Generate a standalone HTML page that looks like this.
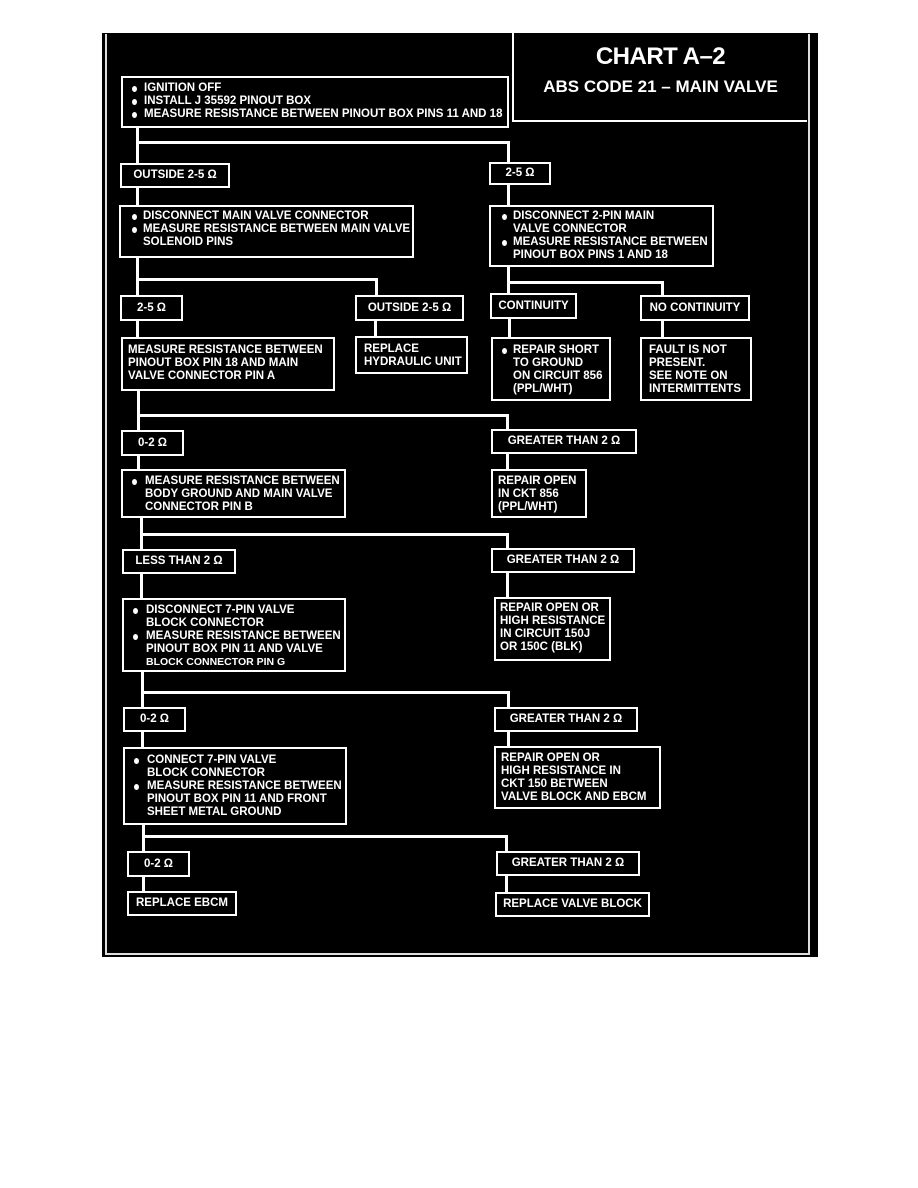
<!DOCTYPE html>
<html><head><meta charset="utf-8"><style>
body{margin:0;width:918px;height:1188px;background:#fff;position:relative;overflow:hidden;font-family:"Liberation Sans",sans-serif}
.bg{position:absolute;left:102px;top:33px;width:716px;height:924px;background:#000}
.fr{position:absolute;left:105px;top:34px;width:701px;height:919px;border:2px solid #ddd;border-top:none}
.b{position:absolute;border:2px solid #fff;box-sizing:border-box;color:#fff;font-weight:bold;font-size:11.5px;line-height:13px;padding:3px 6px;white-space:nowrap}
.c{display:flex;align-items:center;justify-content:center;padding:0}
.l{position:absolute;background:#fff}
.i{padding-left:22px;position:relative}
.i.d:before{content:"";position:absolute;left:5px;top:4px;width:5px;height:6px;border-radius:50%;background:#fff}
</style></head><body>
<div class="bg"></div><div class="fr"></div>
<div class="b" style="left:512px;top:30px;width:295px;height:92px;text-align:center;padding:12px 0 0;border-top:none;border-right:none">
<div style="font-size:24px;line-height:30px;letter-spacing:-0.5px">CHART A–2</div>
<div style="font-size:17px;line-height:30px">ABS CODE 21 – MAIN VALVE</div></div>

<div class="b" style="left:121px;top:76px;width:388px;height:52px;padding:4px 4px"><div class="i d" style="padding-left:17px">IGNITION OFF</div><div class="i d" style="padding-left:17px">INSTALL J 35592 PINOUT BOX</div><div class="i d" style="padding-left:17px">MEASURE RESISTANCE BETWEEN PINOUT BOX PINS 11 AND 18</div></div>

<div class="l" style="left:136px;top:127px;width:3px;height:38px"></div>
<div class="l" style="left:136px;top:141px;width:374px;height:3px"></div>
<div class="l" style="left:507px;top:141px;width:3px;height:22px"></div>
<div class="b c" style="left:120px;top:163px;width:110px;height:25px">OUTSIDE 2-5 Ω</div>
<div class="b c" style="left:489px;top:162px;width:62px;height:23px">2-5 Ω</div>
<div class="l" style="left:136px;top:187px;width:3px;height:19px"></div>
<div class="l" style="left:507px;top:184px;width:3px;height:22px"></div>

<div class="b" style="left:119px;top:205px;width:295px;height:53px"><div class="i d" style="padding-left:16px">DISCONNECT MAIN VALVE CONNECTOR</div><div class="i d" style="padding-left:16px">MEASURE RESISTANCE BETWEEN MAIN VALVE</div><div style="padding-left:16px">SOLENOID PINS</div></div>
<div class="b" style="left:489px;top:205px;width:225px;height:62px"><div class="i d" style="padding-left:16px">DISCONNECT 2-PIN MAIN</div><div style="padding-left:16px">VALVE CONNECTOR</div><div class="i d" style="padding-left:16px">MEASURE RESISTANCE BETWEEN</div><div style="padding-left:16px">PINOUT BOX PINS 1 AND 18</div></div>

<div class="l" style="left:136px;top:257px;width:3px;height:40px"></div>
<div class="l" style="left:136px;top:278px;width:242px;height:3px"></div>
<div class="l" style="left:375px;top:278px;width:3px;height:19px"></div>
<div class="l" style="left:507px;top:266px;width:3px;height:29px"></div>
<div class="l" style="left:507px;top:281px;width:157px;height:3px"></div>
<div class="l" style="left:661px;top:281px;width:3px;height:15px"></div>

<div class="b c" style="left:120px;top:295px;width:63px;height:26px">2-5 Ω</div>
<div class="b c" style="left:355px;top:295px;width:109px;height:26px">OUTSIDE 2-5 Ω</div>
<div class="b c" style="left:490px;top:293px;width:87px;height:26px">CONTINUITY</div>
<div class="b c" style="left:640px;top:295px;width:110px;height:26px">NO CONTINUITY</div>
<div class="l" style="left:136px;top:320px;width:3px;height:18px"></div>
<div class="l" style="left:374px;top:320px;width:3px;height:17px"></div>
<div class="l" style="left:508px;top:318px;width:3px;height:20px"></div>
<div class="l" style="left:661px;top:320px;width:3px;height:18px"></div>

<div class="b" style="left:121px;top:337px;width:214px;height:54px;padding:5px 5px">MEASURE RESISTANCE BETWEEN<br>PINOUT BOX PIN 18 AND MAIN<br>VALVE CONNECTOR PIN A</div>
<div class="b" style="left:355px;top:336px;width:113px;height:38px;padding:5px 7px">REPLACE<br>HYDRAULIC UNIT</div>
<div class="b" style="left:491px;top:337px;width:120px;height:64px;padding:5px 4px"><div class="i d" style="padding-left:16px">REPAIR SHORT</div><div style="padding-left:16px">TO GROUND<br>ON CIRCUIT 856<br>(PPL/WHT)</div></div>
<div class="b" style="left:640px;top:337px;width:112px;height:64px;padding:5px 7px">FAULT IS NOT<br>PRESENT.<br>SEE NOTE ON<br>INTERMITTENTS</div>

<div class="l" style="left:137px;top:390px;width:3px;height:41px"></div>
<div class="l" style="left:137px;top:414px;width:372px;height:3px"></div>
<div class="l" style="left:506px;top:414px;width:3px;height:16px"></div>
<div class="b c" style="left:121px;top:430px;width:63px;height:26px">0-2 Ω</div>
<div class="b c" style="left:491px;top:429px;width:146px;height:25px">GREATER THAN 2 Ω</div>
<div class="l" style="left:137px;top:455px;width:3px;height:15px"></div>
<div class="l" style="left:506px;top:453px;width:3px;height:17px"></div>

<div class="b" style="left:121px;top:469px;width:225px;height:49px;padding:4px 4px"><div class="i d" style="padding-left:18px">MEASURE RESISTANCE BETWEEN</div><div style="padding-left:18px">BODY GROUND AND MAIN VALVE<br>CONNECTOR PIN B</div></div>
<div class="b" style="left:491px;top:469px;width:96px;height:49px;padding:4px 5px">REPAIR OPEN<br>IN CKT 856<br>(PPL/WHT)</div>

<div class="l" style="left:140px;top:517px;width:3px;height:33px"></div>
<div class="l" style="left:140px;top:533px;width:369px;height:3px"></div>
<div class="l" style="left:506px;top:533px;width:3px;height:16px"></div>
<div class="b c" style="left:122px;top:549px;width:114px;height:25px">LESS THAN 2 Ω</div>
<div class="b c" style="left:491px;top:548px;width:144px;height:25px">GREATER THAN 2 Ω</div>
<div class="l" style="left:140px;top:573px;width:3px;height:26px"></div>
<div class="l" style="left:506px;top:572px;width:3px;height:26px"></div>

<div class="b" style="left:122px;top:598px;width:224px;height:74px;padding:4px 4px"><div class="i d" style="padding-left:18px">DISCONNECT 7-PIN VALVE</div><div style="padding-left:18px">BLOCK CONNECTOR</div><div class="i d" style="padding-left:18px">MEASURE RESISTANCE BETWEEN</div><div style="padding-left:18px">PINOUT BOX PIN 11 AND VALVE<br><span style="font-size:10.5px">BLOCK CONNECTOR PIN G</span></div></div>
<div class="b" style="left:494px;top:597px;width:117px;height:64px;padding:3px 4px">REPAIR OPEN OR<br>HIGH RESISTANCE<br>IN CIRCUIT 150J<br>OR 150C (BLK)</div>

<div class="l" style="left:141px;top:671px;width:3px;height:37px"></div>
<div class="l" style="left:141px;top:691px;width:369px;height:3px"></div>
<div class="l" style="left:507px;top:691px;width:3px;height:17px"></div>
<div class="b c" style="left:123px;top:707px;width:63px;height:25px">0-2 Ω</div>
<div class="b c" style="left:494px;top:707px;width:144px;height:25px">GREATER THAN 2 Ω</div>
<div class="l" style="left:141px;top:731px;width:3px;height:17px"></div>
<div class="l" style="left:507px;top:731px;width:3px;height:16px"></div>

<div class="b" style="left:123px;top:747px;width:224px;height:78px;padding:5px 4px"><div class="i d" style="padding-left:18px">CONNECT 7-PIN VALVE</div><div style="padding-left:18px">BLOCK CONNECTOR</div><div class="i d" style="padding-left:18px">MEASURE RESISTANCE BETWEEN</div><div style="padding-left:18px">PINOUT BOX PIN 11 AND FRONT<br>SHEET METAL GROUND</div></div>
<div class="b" style="left:494px;top:746px;width:167px;height:63px;padding:4px 5px">REPAIR OPEN OR<br>HIGH RESISTANCE IN<br>CKT 150 BETWEEN<br>VALVE BLOCK AND EBCM</div>

<div class="l" style="left:142px;top:824px;width:3px;height:28px"></div>
<div class="l" style="left:142px;top:835px;width:366px;height:3px"></div>
<div class="l" style="left:505px;top:835px;width:3px;height:17px"></div>
<div class="b c" style="left:127px;top:851px;width:63px;height:26px">0-2 Ω</div>
<div class="b c" style="left:496px;top:851px;width:144px;height:25px">GREATER THAN 2 Ω</div>
<div class="l" style="left:142px;top:876px;width:3px;height:16px"></div>
<div class="l" style="left:505px;top:875px;width:3px;height:18px"></div>
<div class="b c" style="left:127px;top:891px;width:110px;height:25px">REPLACE EBCM</div>
<div class="b c" style="left:495px;top:892px;width:155px;height:25px">REPLACE VALVE BLOCK</div>
</body></html>
